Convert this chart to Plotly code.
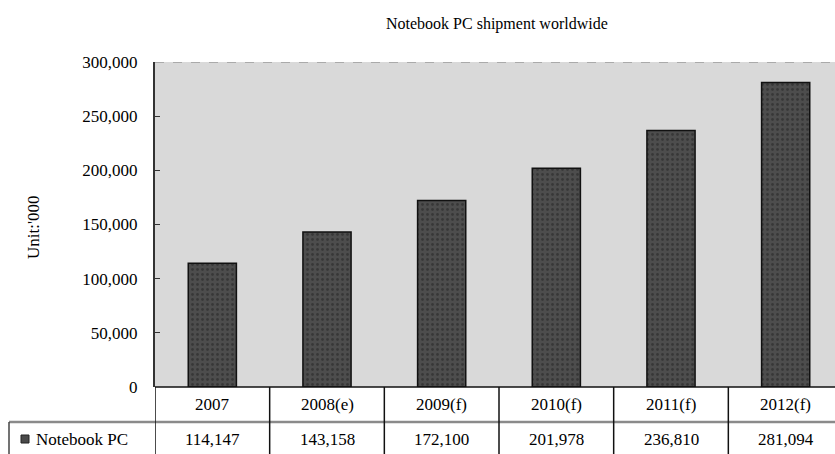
import plotly.graph_objects as go

categories = ["2007", "2008(e)", "2009(f)", "2010(f)", "2011(f)", "2012(f)"]
values = [114147, 143158, 172100, 201978, 236810, 281094]
value_labels = ["114,147", "143,158", "172,100", "201,978", "236,810", "281,094"]
series_name = "Notebook PC"
title = "Notebook PC shipment worldwide"
y_title = "Unit:'000"

W, H = 843, 470
L, R, T, B = 155, 0, 62, 83
PW, PH = W - L - R, H - T - B
FONT = "Liberation Serif"

def px_x(x):  # screen px -> paper
    return (x - L) / PW

def px_y(y):
    return (T + PH - y) / PH

xs = list(range(len(categories)))
fig = go.Figure()
fig.add_trace(go.Bar(
    x=xs, y=values, width=0.42, name=series_name,
    marker=dict(color="#4a4a4a", line=dict(color="#111111", width=1.5),
                pattern=dict(shape=".", fgcolor="#222222", bgcolor="#4d4d4d", size=5, solidity=0.25)),
    showlegend=False, hoverinfo="skip",
))

shapes = []
shapes.append(dict(type="line", xref="paper", yref="y", x0=0, x1=1, y0=300000, y1=300000,
                   line=dict(color="#9a9a9a", width=1.5, dash="dash"), layer="above"))
row1_top = px_y(387)
row_mid = px_y(422)
row_bot = px_y(470)
shapes.append(dict(type="line", xref="paper", yref="paper", x0=0, x1=1, y0=row1_top, y1=row1_top,
                   line=dict(color="#111111", width=1.5)))
shapes.append(dict(type="line", xref="paper", yref="paper", x0=px_x(9), x1=1, y0=row_mid, y1=row_mid,
                   line=dict(color="#8a8a8a", width=2.5)))
shapes.append(dict(type="line", xref="paper", yref="paper", x0=px_x(9), x1=px_x(9), y0=row_mid, y1=row_bot,
                   line=dict(color="#444444", width=1.5)))
for i in range(len(categories)):
    shapes.append(dict(type="line", xref="x", yref="paper", x0=i - 0.5, x1=i - 0.5, y0=row1_top, y1=row_bot,
                       line=dict(color="#111111", width=1.5)))
shapes.append(dict(type="rect", xref="paper", yref="paper", x0=px_x(21), x1=px_x(29), y0=px_y(443), y1=px_y(435),
                   fillcolor="#4a4a4a", line=dict(color="#222222", width=1)))

annotations = []
for i, (c, v) in enumerate(zip(categories, value_labels)):
    annotations.append(dict(x=i, y=px_y(404), xref="x", yref="paper", text=c, showarrow=False,
                            xanchor="center", yanchor="middle",
                            font=dict(family=FONT, size=17, color="#000")))
    annotations.append(dict(x=i, y=px_y(439), xref="x", yref="paper", text=v, showarrow=False,
                            xanchor="center", yanchor="middle",
                            font=dict(family=FONT, size=17, color="#000")))
annotations.append(dict(x=px_x(34), y=px_y(439), xref="paper", yref="paper", text=series_name, showarrow=False,
                        xanchor="left", yanchor="middle", font=dict(family=FONT, size=17, color="#000")))
annotations.append(dict(x=px_x(33), y=px_y(227), xref="paper", yref="paper", text=y_title, showarrow=False,
                        textangle=-90, xanchor="center", yanchor="middle",
                        font=dict(family=FONT, size=17, color="#000")))
annotations.append(dict(x=px_x(497), y=px_y(24), xref="paper", yref="paper", text=title, showarrow=False,
                        xanchor="center", yanchor="middle",
                        font=dict(family=FONT, size=16, color="#000")))

fig.update_layout(
    width=W, height=H,
    margin=dict(l=L, r=R, t=T, b=B, autoexpand=False),
    paper_bgcolor="white", plot_bgcolor="#d9d9d9",
    shapes=shapes, annotations=annotations,
    font=dict(family=FONT, size=17, color="#000"),
    xaxis=dict(range=[-0.5, len(categories) - 0.5], showticklabels=False, ticks="", showgrid=False,
               zeroline=False, showline=False),
    yaxis=dict(range=[0, 300000], dtick=50000, tickformat=",", showgrid=False, zeroline=False,
               showline=True, linecolor="#333333", linewidth=2, ticks="inside", ticklen=5,
               tickcolor="#333333", ticklabelstandoff=12,
               tickfont=dict(family=FONT, size=17, color="#000")),
    bargap=0.58,
)

fig.write_html("out.html", config={"displayModeBar": False},
               post_script="document.body.style.margin='0';document.body.style.overflow='hidden';")
